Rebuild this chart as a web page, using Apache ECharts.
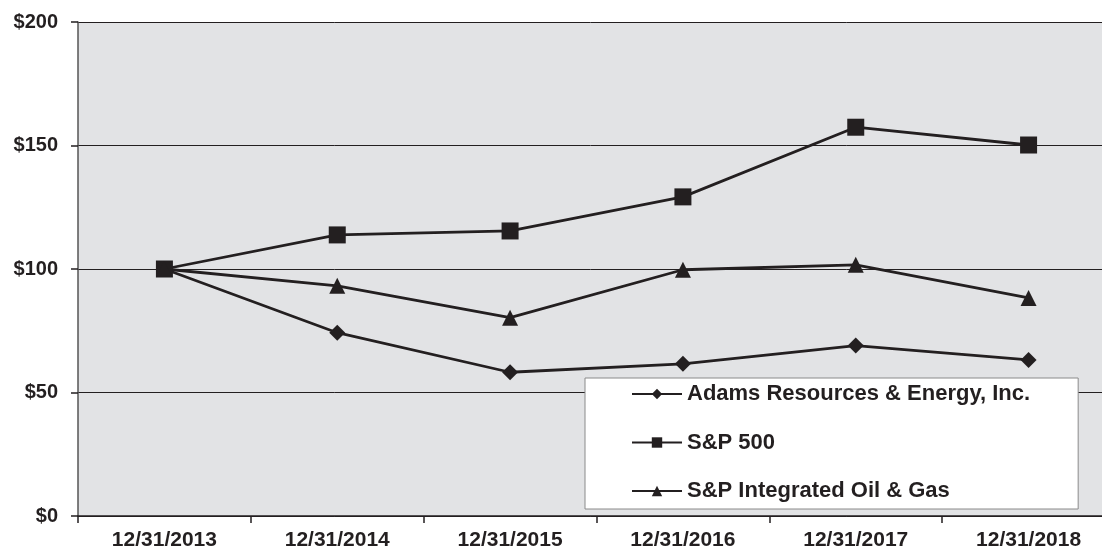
<!DOCTYPE html>
<html>
<head>
<meta charset="utf-8">
<script src="https://cdn.jsdelivr.net/npm/echarts@6/dist/echarts.min.js"></script>
<style>
  html, body { margin: 0; padding: 0; background: #fff; }
  #main { width: 1102px; height: 550px; }
</style>
</head>
<body>
<div id="main"></div>
<script>
// 数据
var years = ['12/31/2013', '12/31/2014', '12/31/2015', '12/31/2016', '12/31/2017', '12/31/2018'];
var adams = [100, 74.2, 58.2, 61.6, 69, 63.2];
var sp500 = [100, 113.8, 115.4, 129.2, 157.4, 150.2];
var oilGas = [100, 93.2, 80.3, 99.7, 101.7, 88.3];

var ink = '#231f20';
var font = '"Liberation Sans", Arial, sans-serif';

var myChart = echarts.init(document.getElementById('main'));
var option = {
    animation: false,
    backgroundColor: '#fff',
    grid: {
        left: 78,
        top: 22,
        bottom: 34,
        width: 1037,
        outerBoundsMode: 'none',
        containLabel: false,
        show: true,
        backgroundColor: '#e2e3e5',
        borderWidth: 0
    },
    legend: {
        orient: 'vertical',
        left: 585,
        top: 378,
        padding: [5, 48, 7, 46],
        itemGap: 26.5,
        itemWidth: 50,
        itemHeight: 13,
        backgroundColor: '#fff',
        borderColor: '#8a8a8a',
        borderWidth: 1,
        borderRadius: 0,
        textStyle: {
            fontFamily: font,
            fontWeight: 'bold',
            fontSize: 22,
            lineHeight: 20,
            color: ink
        },
        data: ['Adams Resources & Energy, Inc.', 'S&P 500', 'S&P Integrated Oil & Gas']
    },
    xAxis: {
        type: 'category',
        data: years,
        boundaryGap: true,
        axisLine: { lineStyle: { color: ink, width: 1.5 } },
        axisTick: { show: true, length: 7, lineStyle: { color: ink, width: 1.5 } },
        axisLabel: {
            margin: 14,
            fontFamily: font,
            fontWeight: 'bold',
            fontSize: 21,
            color: ink
        },
        splitLine: { show: false }
    },
    yAxis: {
        type: 'value',
        min: 0,
        max: 200,
        interval: 50,
        axisLine: { show: true, lineStyle: { color: '#555', width: 1.5 } },
        axisTick: { show: true, length: 7, lineStyle: { color: ink, width: 1.5 } },
        axisLabel: {
            margin: 20,
            fontFamily: font,
            fontWeight: 'bold',
            fontSize: 20,
            color: ink,
            formatter: function (v) { return '$' + v; }
        },
        splitLine: { show: true, lineStyle: { color: ink, width: 1 } }
    },
    series: [
        {
            name: 'Adams Resources & Energy, Inc.',
            type: 'line',
            data: adams,
            symbol: 'diamond',
            symbolSize: 16,
            lineStyle: { color: ink, width: 2.8 },
            itemStyle: { color: ink },
            z: 3
        },
        {
            name: 'S&P 500',
            type: 'line',
            data: sp500,
            symbol: 'rect',
            symbolSize: 17,
            lineStyle: { color: ink, width: 2.8 },
            itemStyle: { color: ink },
            z: 3
        },
        {
            name: 'S&P Integrated Oil & Gas',
            type: 'line',
            data: oilGas,
            symbol: 'triangle',
            symbolSize: 16,
            lineStyle: { color: ink, width: 2.8 },
            itemStyle: { color: ink },
            z: 3
        }
    ]
};
myChart.setOption(option);
</script>
</body>
</html>
